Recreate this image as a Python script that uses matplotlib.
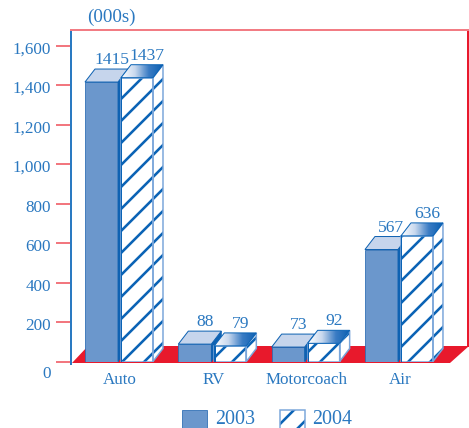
import numpy as np
import matplotlib
matplotlib.use("Agg")
import matplotlib.pyplot as plt
from matplotlib.patches import Polygon, Rectangle
from matplotlib.colors import LinearSegmentedColormap
import matplotlib.transforms as mtransforms

# ---- data -------------------------------------------------------------
categories = ["Auto", "RV", "Motorcoach", "Air"]
values_2003 = [1415, 88, 73, 567]
values_2004 = [1437, 79, 92, 636]
series_labels = ["2003", "2004"]
y_ticks = [0, 200, 400, 600, 800, 1000, 1200, 1400, 1600]
y_tick_labels = ["0", "200", "400", "600", "800", "1,000", "1,200", "1,400", "1,600"]
unit_label = "(000s)"

# ---- style ------------------------------------------------------------
DPI = 132
W, H = 469, 428
TEXT_BLUE = "#2a78c0"
FRONT_03 = "#6b97cc"
TOP_03 = "#c6d5ec"
SIDE_03 = "#0f62b2"
EDGE_03 = "#2c6db4"
HATCH_BLUE = "#0b63b5"
EDGE_04 = "#7aa6da"
FLOOR_RED = "#e8192c"
TOP_PINK = "#f27c84"
TICK_RED = "#ee4a55"
SPINE_BLUE = "#2a7ac2"

plt.rcParams["font.family"] = ["Liberation Serif", "DejaVu Serif"]
plt.rcParams["hatch.linewidth"] = 1.4
HATCH = "//"


def pt(px):
    return px * 72.0 / DPI


fig = plt.figure(figsize=(W / DPI, H / DPI), dpi=DPI)
fig.patch.set_facecolor("white")

AX_L, AX_R, AX_T, AX_B = 71, 468, 30, 361.5
ax = fig.add_axes([AX_L / W, 1 - AX_B / H, (AX_R - AX_L) / W, (AX_B - AX_T) / H])
XLIM = (-0.525, 3.729)
YLIM = (0, 1678.5)
ax.set_xlim(*XLIM)
ax.set_ylim(*YLIM)

sx = (AX_R - AX_L) / (XLIM[1] - XLIM[0])   # pixels per category unit
sy = (AX_B - AX_T) / (YLIM[1] - YLIM[0])   # pixels per value unit


def dxu(px):
    return px / sx


def dyu(px):
    return px / sy


DEPTH_X, DEPTH_Y = 10, 13
x = np.arange(len(categories))
x03 = x - dxu(35)
x04 = x + dxu(1)
w03 = dxu(33)
w04 = dxu(32)
ddx, ddy = dxu(DEPTH_X), dyu(DEPTH_Y)

# ---- floor --------------------------------------------------------------
floor_lo, floor_hi = -dyu(1.5), dyu(15.5)
floor = Polygon([(XLIM[0] + dxu(1), floor_lo), (XLIM[0] + dxu(17), floor_hi),
                 (XLIM[1] + dxu(1), floor_hi), (XLIM[1] - dxu(18), floor_lo)],
                closed=True, facecolor=FLOOR_RED, edgecolor="none",
                zorder=1.5, clip_on=False)
ax.add_patch(floor)

# ---- 2003 bars ----------------------------------------------------------
ax.bar(x03, values_2003, width=w03, align="edge", color=FRONT_03,
       edgecolor=EDGE_03, linewidth=pt(0.8), zorder=3)
for x0, v in zip(x03, values_2003):
    top = Polygon([(x0, v), (x0 + w03, v), (x0 + w03 + ddx, v + ddy), (x0 + ddx, v + ddy)],
                  closed=True, facecolor=TOP_03, edgecolor=SIDE_03, linewidth=pt(1), zorder=3)
    side = Polygon([(x0 + w03, 0), (x0 + w03, v), (x0 + w03 + ddx, v + ddy), (x0 + w03 + ddx, ddy)],
                   closed=True, facecolor=SIDE_03, edgecolor=SIDE_03, linewidth=pt(0.8), zorder=3)
    ax.add_patch(side)
    ax.add_patch(top)

# ---- 2004 bars ----------------------------------------------------------
ax.bar(x04, values_2004, width=w04, align="edge", color="white",
       edgecolor=HATCH_BLUE, linewidth=0, hatch=HATCH, zorder=4)
ax.bar(x04, values_2004, width=w04, align="edge", fill=False,
       edgecolor=EDGE_04, linewidth=pt(1.5), zorder=4.2)
ax.bar(x04, values_2004, width=dxu(1.5), align="edge", color=HATCH_BLUE,
       linewidth=0, zorder=4.3)

grad_cmap = LinearSegmentedColormap.from_list(
    "topgrad", ["#ffffff", "#c8d8ee", "#3a7cc4", "#0b5fb2"])
grad = np.linspace(0, 1, 128).reshape(1, -1)
for x0, v in zip(x04, values_2004):
    side = Polygon([(x0 + w04, 0), (x0 + w04, v), (x0 + w04 + ddx, v + ddy), (x0 + w04 + ddx, ddy)],
                   closed=True, facecolor="white", edgecolor=HATCH_BLUE, linewidth=0,
                   hatch=HATCH, zorder=4)
    ax.add_patch(side)
    side_edge = Polygon(side.get_xy(), closed=True, fill=False, edgecolor=EDGE_04,
                        linewidth=pt(1.5), zorder=4.2)
    ax.add_patch(side_edge)
    top_pts = [(x0, v), (x0 + w04, v), (x0 + w04 + ddx, v + ddy), (x0 + ddx, v + ddy)]
    top = Polygon(top_pts, closed=True, facecolor="none", edgecolor=HATCH_BLUE,
                  linewidth=pt(1), zorder=4.6)
    ax.add_patch(top)
    im = ax.imshow(grad, extent=[x0, x0 + w04 + ddx, v, v + ddy], aspect="auto",
                   cmap=grad_cmap, origin="lower", zorder=4.5, interpolation="bilinear")
    im.set_clip_path(top)

ax.set_xlim(*XLIM)
ax.set_ylim(*YLIM)

# ---- spines and ticks ----------------------------------------------------
for s in ax.spines.values():
    s.set_linewidth(pt(2))
ax.spines["left"].set_color(SPINE_BLUE)
ax.spines["left"].set_bounds(-dyu(2.5), YLIM[1])
ax.spines["top"].set_color(TOP_PINK)
ax.spines["right"].set_color(FLOOR_RED)
ax.spines["right"].set_bounds(floor_hi, YLIM[1])
ax.spines["bottom"].set_visible(False)
ax.set_yticks(y_ticks)
ax.tick_params(axis="y", length=pt(15), width=pt(1.5), color=TICK_RED,
               labelleft=False, direction="out")
ax.set_xticks([])
ax.patch.set_alpha(0)

lab_tr = mtransforms.blended_transform_factory(ax.transAxes, ax.transData)
for t, lab in zip(y_ticks, y_tick_labels):
    shift = -12.5 if t == 0 else -4
    tr = lab_tr + mtransforms.ScaledTranslation(-20 / DPI, shift / DPI, fig.dpi_scale_trans)
    ax.text(0, t, lab, transform=tr, ha="right", va="center",
            fontsize=pt(17), color=TEXT_BLUE)

for xi, name in zip(x, categories):
    tr = ax.transData + mtransforms.ScaledTranslation(0, -18.5 / DPI, fig.dpi_scale_trans)
    ax.text(xi, 0, name, transform=tr, ha="center", va="center",
            fontsize=pt(17), color=TEXT_BLUE)

# value labels above each bar
val_tr = ax.transData + mtransforms.ScaledTranslation(0, 5 / DPI, fig.dpi_scale_trans)
for xs, ws, vals in ((x03, w03, values_2003), (x04, w04, values_2004)):
    for x0, v in zip(xs, vals):
        ax.text(x0 + ws / 2 + ddx, v + ddy, str(v), transform=val_tr, ha="center",
                va="baseline", fontsize=pt(17.5), color=TEXT_BLUE, zorder=6)

fig.text(111 / W, 1 - 17 / H, unit_label, ha="center", va="center",
         fontsize=pt(19), color=TEXT_BLUE)

# ---- legend ---------------------------------------------------------------
fig.add_artist(Rectangle((182 / W, 1 - 435 / H), 25 / W, 25 / H, transform=fig.transFigure,
                         facecolor=FRONT_03, edgecolor=EDGE_03, linewidth=pt(0.8)))
fig.add_artist(Rectangle((280 / W, 1 - 435 / H), 25 / W, 25 / H, transform=fig.transFigure,
                         facecolor="white", edgecolor=HATCH_BLUE, linewidth=0, hatch=HATCH))
fig.add_artist(Rectangle((280 / W, 1 - 435 / H), 25 / W, 25 / H, transform=fig.transFigure,
                         fill=False, edgecolor=EDGE_04, linewidth=pt(1.5)))
fig.text(215 / W, 1 - 423.5 / H, series_labels[0], ha="left", va="baseline",
         fontsize=pt(20), color=TEXT_BLUE)
fig.text(312 / W, 1 - 423.5 / H, series_labels[1], ha="left", va="baseline",
         fontsize=pt(20), color=TEXT_BLUE)

fig.savefig("out.png", dpi=DPI)
